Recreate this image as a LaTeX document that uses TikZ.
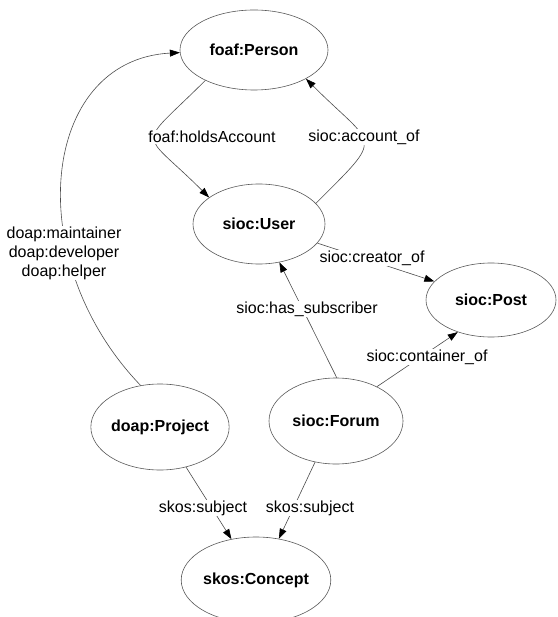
\documentclass[tikz,border=0pt]{standalone}
\usepackage{fontspec}
\setmainfont{Liberation Sans}
\usepackage{tikz}
\usetikzlibrary{shapes}
\usetikzlibrary{arrows.meta}
\newcommand \lblfont {\fontsize{16}{19}\selectfont}
\tikzstyle{class}=[ellipse,draw=black!65,inner sep=0mm,minimum width=134pt,minimum height=84pt,font=\lblfont\bfseries]
\tikzstyle{prop}=[fill=white,inner sep=1pt,align=center,font=\lblfont]
\tikzstyle{arrow}=[draw=black!70,-{Triangle[length=10pt,width=7pt,color=black]}]
\tikzset{every picture/.style={
    line width=0.6pt
  }
}

\begin{document}
\begin{tikzpicture}[x=1pt,y=1pt]
      \useasboundingbox (0,0) rectangle (557,-617);
      \node[class,minimum width=148pt,minimum height=80pt] at (254,-50) (person) {foaf:Person};
      \node[class,minimum width=132pt,minimum height=80pt] at (259,-224) (user) {sioc:User};
      \node[class,minimum width=130pt,minimum height=74pt] at (491,-300) (post) {sioc:Post};
      \node[class,minimum height=86pt] at (160,-427) (project) {doap:Project};
      \node[class,minimum height=86pt] at (336,-421) (forum) {sioc:Forum};
      \node[class,minimum width=133pt,minimum height=86pt] at (256,-580) (concept) {skos:Concept};
      \draw[arrow] (person.212) .. controls +(-70,-70) and +(-70,70) .. (user.152);
      \draw[arrow] (user.20) .. controls +(70,70) and +(70,-70) .. (person.331);
      \draw[arrow] (project.115) .. controls (20,-260) and (40,-60) .. (person.182);
      \draw[arrow] (user) -- (post);
      \draw[arrow] (forum.89) -- (user.-62);
      \draw[arrow] (forum.40) -- (post.224);
      \draw[arrow] (project.-57) -- (concept.121);
      \draw[arrow] (forum.-117) -- (concept.61);
      \node[prop] at (212,-137) (holds) {foaf:holdsAccount};
      \node[prop] at (364,-137) (accof) {sioc:account\_of};
      \node[prop] at (64,-253) (maint) {doap:maintainer\\doap:developer\\doap:helper};
      \node[prop] at (372,-258) (creator) {sioc:creator\_of};
      \node[prop] at (307,-309) (subscr) {sioc:has\_subscriber};
      \node[prop] at (427,-357) (container) {sioc:container\_of};
      \node[prop] at (203,-508) (subjp) {skos:subject};
      \node[prop] at (310,-508) (subjf) {skos:subject};
    \end{tikzpicture}
\end{document}
